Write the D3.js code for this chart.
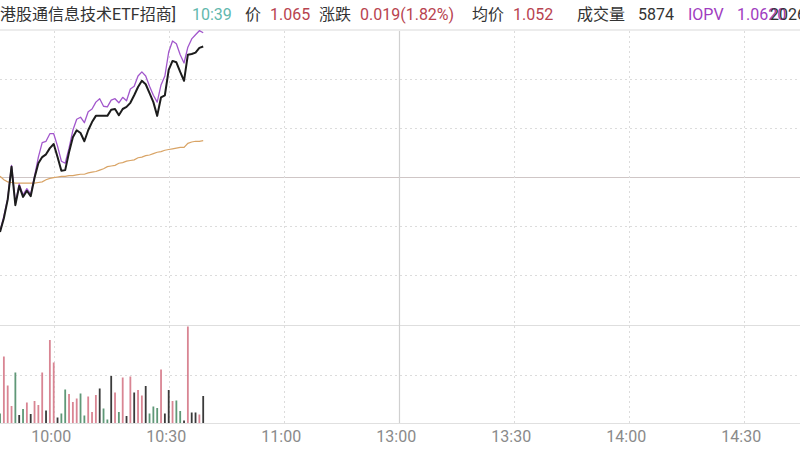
<!DOCTYPE html>
<html>
<head>
<meta charset="utf-8">
<script src="https://cdn.jsdelivr.net/npm/d3@7"></script>
<style>
html,body{margin:0;padding:0;background:#fff;overflow:hidden;}
svg{display:block;}
text{font-family:Roboto,"Noto Sans CJK SC",sans-serif;}
</style>
</head>
<body>
<svg id="chart" width="800" height="450"></svg>
<script>
// ---- data ----
const prevClose = 1.046;
const priceRange = 0.0214;
const times = ["09:46","09:47","09:48","09:49","09:50","09:51","09:52","09:53","09:54","09:55",
  "09:56","09:57","09:58","09:59","10:00","10:01","10:02","10:03","10:04","10:05",
  "10:06","10:07","10:08","10:09","10:10","10:11","10:12","10:13","10:14","10:15",
  "10:16","10:17","10:18","10:19","10:20","10:21","10:22","10:23","10:24","10:25",
  "10:26","10:27","10:28","10:29","10:30","10:31","10:32","10:33","10:34","10:35",
  "10:36","10:37","10:38","10:39"];
const price = [1.0380,1.0400,1.0427,1.0475,1.0419,1.0447,1.0431,1.0440,1.0432,1.0459,
  1.0480,1.0489,1.0493,1.0502,1.0508,1.0489,1.0469,1.0470,1.0496,1.0518,
  1.0528,1.0524,1.0512,1.0528,1.0540,1.0549,1.0549,1.0549,1.0549,1.0558,
  1.0559,1.0550,1.0559,1.0562,1.0568,1.0579,1.0591,1.0600,1.0595,1.0582,
  1.0569,1.0549,1.0576,1.0579,1.0616,1.0629,1.0627,1.0613,1.0600,1.0638,
  1.0639,1.0641,1.0648,1.0650];
const iopv = [1.0381,1.0403,1.0429,1.0477,1.0422,1.0450,1.0434,1.0443,1.0435,1.0461,
  1.0489,1.0510,1.0512,1.0523,1.0523,1.0505,1.0483,1.0480,1.0502,1.0528,
  1.0544,1.0547,1.0539,1.0555,1.0559,1.0569,1.0574,1.0563,1.0562,1.0572,
  1.0574,1.0568,1.0576,1.0571,1.0588,1.0592,1.0607,1.0613,1.0607,1.0592,
  1.0579,1.0569,1.0594,1.0607,1.0642,1.0658,1.0654,1.0638,1.0626,1.0649,
  1.0661,1.0667,1.0673,1.0670];
const avgPrice = [1.0461,1.0456,1.0453,1.0452,1.0451,1.0451,1.0451,1.0451,1.0451,1.0451,
  1.0452,1.0453,1.0456,1.0458,1.0459,1.0460,1.0461,1.0461,1.0462,1.0462,
  1.0463,1.0464,1.0464,1.0466,1.0467,1.0468,1.0470,1.0472,1.0475,1.0476,
  1.0477,1.0480,1.0481,1.0483,1.0484,1.0485,1.0488,1.0489,1.0491,1.0492,
  1.0494,1.0496,1.0497,1.0499,1.0500,1.0501,1.0502,1.0503,1.0503,1.0509,
  1.0511,1.0512,1.0512,1.0513];
const volume = [19,133,75,34,101,16,28,41,18,44,
  36,101,25,166,121,11,19,67,58,42,
  49,59,15,53,22,56,69,29,7,94,
  61,22,91,14,93,61,66,55,74,19,
  33,30,107,19,66,44,45,24,5,193,
  21,21,17,54];
const volDir = ["g","r","r","r","g","k","g","r","k","r",
  "r","r","k","r","r","k","g","g","r","r",
  "r","g","g","r","r","r","k","g","g","k",
  "r","g","r","k","r","k","r","r","k","g",
  "g","g","r","k","k","r","g","g","k","r",
  "k","k","r","k"];
const tickTimes = ["10:00","10:30","11:00","13:00","13:30","14:00","14:30"];
const vGridTimes = ["10:00","10:30","11:00","13:30","14:00","14:30"];
const volMax = 194;

// ---- helpers ----
function timeIndex(t){
  const [h,m] = t.split(":").map(Number);
  const mins = h*60+m;
  return mins <= 690 ? mins - 570 : (mins - 780) + 120;
}

const svg = d3.select("#chart");
const W = 800;
const x = d3.scaleLinear().domain([0,240]).range([-61.3, 858.7]);
const y = d3.scaleLinear().domain([prevClose - priceRange, prevClose + priceRange]).range([324, 30]);
const yv = d3.scaleLinear().domain([0, volMax]).range([423, 326]);

const grid = svg.append("g");
// horizontal price grid
d3.range(-2,3).filter(k=>k!==0).forEach(k=>{
  const yy = Math.round(y(prevClose + k*priceRange/3))+0.5;
  grid.append("line").attr("x1",0).attr("x2",W).attr("y1",yy).attr("y2",yy)
    .attr("stroke","#dcdcdc").attr("stroke-width",1).attr("stroke-dasharray","2,3");
});
// top border
grid.append("line").attr("x1",0).attr("x2",W).attr("y1",30).attr("y2",30)
  .attr("stroke","#ececec").attr("stroke-width",2);
// prev close line
grid.append("line").attr("x1",0).attr("x2",W).attr("y1",Math.round(y(prevClose))+0.5).attr("y2",Math.round(y(prevClose))+0.5)
  .attr("stroke","#cfc6c6").attr("stroke-width",1.2);
// volume separator & mid grid
grid.append("line").attr("x1",0).attr("x2",W).attr("y1",325.5).attr("y2",325.5)
  .attr("stroke","#dedede").attr("stroke-width",1.2);
grid.append("line").attr("x1",0).attr("x2",W).attr("y1",Math.round(yv(volMax/2))+0.5).attr("y2",Math.round(yv(volMax/2))+0.5)
  .attr("stroke","#dcdcdc").attr("stroke-width",1).attr("stroke-dasharray","2,3");
// vertical grid
vGridTimes.forEach(t=>{
  const xx = Math.round(x(timeIndex(t)))+0.5;
  grid.append("line").attr("x1",xx).attr("x2",xx).attr("y1",31).attr("y2",423)
    .attr("stroke","#dcdcdc").attr("stroke-width",1).attr("stroke-dasharray","2,3");
});
const xMid = Math.round(x(timeIndex("13:00")))+0.5;
grid.append("line").attr("x1",xMid).attr("x2",xMid).attr("y1",31).attr("y2",423)
  .attr("stroke","#d0d0d0").attr("stroke-width",1.2);
// bottom axis line
grid.append("line").attr("x1",0).attr("x2",W).attr("y1",423.5).attr("y2",423.5)
  .attr("stroke","#e0e0e0").attr("stroke-width",1.2);

// volume bars
const colorMap = {r:"#d98593", g:"#5f9877", k:"#3a3a3a"};
svg.append("g").selectAll("rect").data(times).join("rect")
  .attr("x",(d,i)=>x(timeIndex(d))-0.9)
  .attr("width",1.8)
  .attr("y",(d,i)=>yv(volume[i]))
  .attr("height",(d,i)=>yv(0)-yv(volume[i]))
  .attr("fill",(d,i)=>colorMap[volDir[i]]);

// lines
const mkLine = arr => d3.line().x((d,i)=>x(timeIndex(d))).y((d,i)=>y(arr[i])).curve(d3.curveLinear);
svg.append("path").datum(times).attr("d",mkLine(avgPrice))
  .attr("fill","none").attr("stroke","#d9a466").attr("stroke-width",1.2);
svg.append("path").datum(times).attr("d",mkLine(iopv))
  .attr("fill","none").attr("stroke","#a257cc").attr("stroke-width",1.3).attr("stroke-linejoin","round");
svg.append("path").datum(times).attr("d",mkLine(price))
  .attr("fill","none").attr("stroke","#1c1c1c").attr("stroke-width",2).attr("stroke-linejoin","round");

// x axis
const axis = d3.axisBottom(x)
  .tickValues(tickTimes.map(timeIndex))
  .tickFormat((d,i)=>tickTimes[i])
  .tickSize(0).tickPadding(0);
const ax = svg.append("g").attr("transform","translate(-3,431)").call(axis);
ax.select(".domain").remove();
ax.selectAll("text").attr("fill","#8a8a8a").attr("font-size","16px").attr("dy","0.71em")
  .attr("font-family","Roboto, sans-serif");

// header
const header = [
  {t:"港股通信息技术ETF招商]", x:0, c:"#333333"},
  {t:"10:39", x:192, c:"#62b8ad"},
  {t:"价", x:245, c:"#333333"},
  {t:"1.065", x:270, c:"#b8434f"},
  {t:"涨跌", x:319, c:"#333333"},
  {t:"0.019(1.82%)", x:360, c:"#b8434f"},
  {t:"均价", x:472, c:"#333333"},
  {t:"1.052", x:513, c:"#b8434f"},
  {t:"成交量", x:577, c:"#333333"},
  {t:"5874", x:638, c:"#333333"},
  {t:"IOPV", x:688, c:"#a03cc0"},
  {t:"1.0620", x:737, c:"#a03cc0"},
  {t:"2026-", x:770, c:"#333333"}
];
svg.append("g").selectAll("text").data(header).join("text")
  .attr("x",d=>d.x).attr("y",20).attr("fill",d=>d.c)
  .attr("font-size","16px").text(d=>d.t);
</script>
</body>
</html>
